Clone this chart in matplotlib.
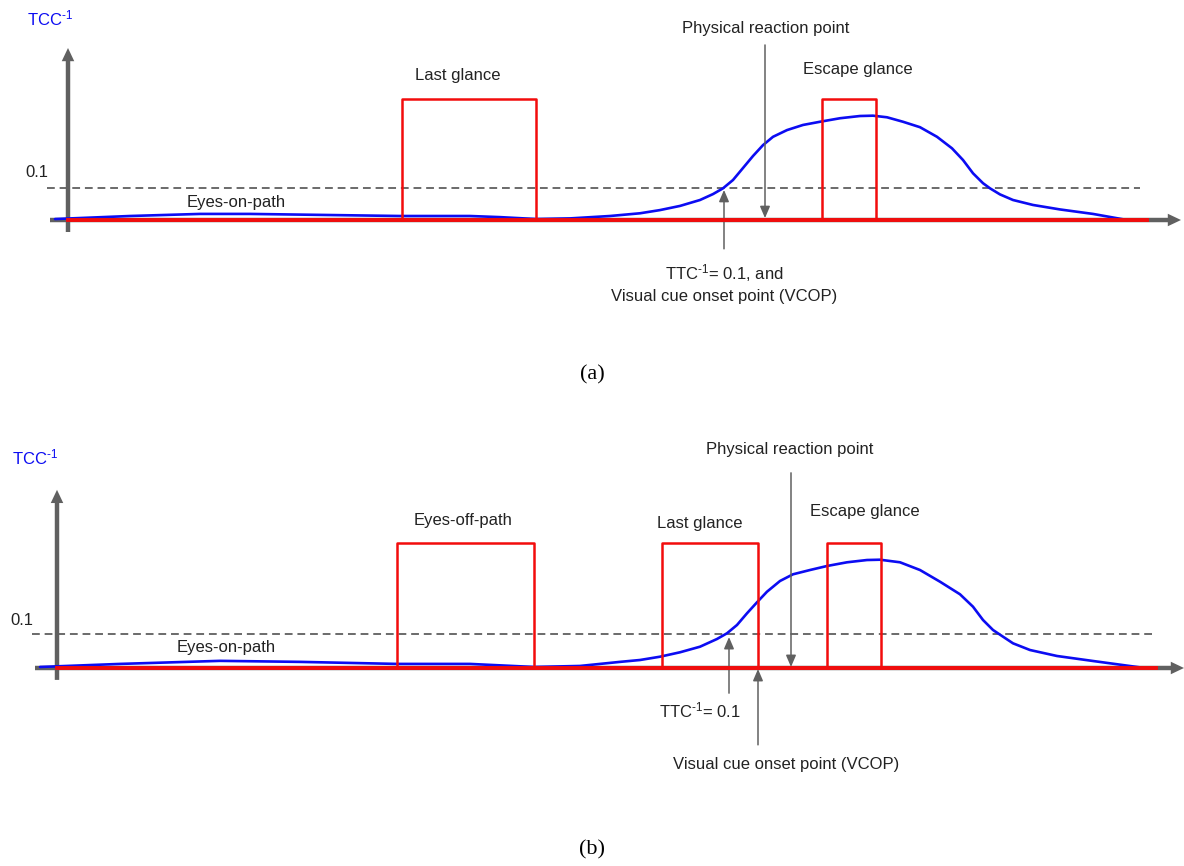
import matplotlib.pyplot as plt

plt.rcParams["font.family"] = "Liberation Sans"
plt.rcParams["mathtext.fontset"] = "custom"
plt.rcParams["mathtext.rm"] = "Liberation Sans"
plt.rcParams["mathtext.it"] = "Liberation Sans:italic"

AXIS_GREY = "#606060"
TEXT = "#222222"
BLUE = "#0c0cf2"
RED = "#f20c0c"

THRESHOLD = 0.1

# (a) eyes on path, last glance, then an escape glance
a_time = [-0.13, 0.62, 1.32, 1.82, 2.52, 3.32, 4.02, 4.32, 4.68, 5.02, 5.42,
          5.72, 5.92, 6.12, 6.32, 6.45, 6.55, 6.65, 6.75, 6.85, 6.95, 7.05,
          7.19, 7.35, 7.52, 7.72, 7.92, 8.05, 8.19, 8.35, 8.52, 8.69, 8.84,
          8.95, 9.05, 9.15, 9.22, 9.32, 9.45, 9.65, 9.92, 10.25, 10.59]
a_ttc_inv = [0.003, 0.0125, 0.019, 0.019, 0.016, 0.0125, 0.0125, 0.009, 0.003,
             0.005, 0.0125, 0.021, 0.031, 0.044, 0.0625, 0.081, 0.099, 0.125,
             0.1625, 0.200, 0.234, 0.260, 0.281, 0.297, 0.307, 0.318, 0.325,
             0.326, 0.321, 0.307, 0.290, 0.260, 0.224, 0.1875, 0.146, 0.115,
             0.099, 0.080, 0.0625, 0.047, 0.033, 0.019, 0.0]
a_glances = [(3.34, 4.68), (7.54, 8.08)]
a_glance_level = 0.378
a_reaction_t = 6.97
a_vcop_t = 6.56
a_end = 10.79

# (b) eyes off path, last glance overlapping the rise, escape glance
b_time = [-0.17, 0.63, 1.63, 2.43, 3.40, 4.13, 4.77, 5.23, 5.63, 5.83, 6.03,
          6.23, 6.43, 6.60, 6.70, 6.80, 6.90, 7.00, 7.10, 7.23, 7.36, 7.53,
          7.70, 7.90, 8.10, 8.23, 8.43, 8.63, 8.83, 9.03, 9.16, 9.26, 9.36,
          9.46, 9.56, 9.73, 10.00, 10.36, 10.85]
b_ttc_inv = [0.003, 0.012, 0.021, 0.018, 0.012, 0.012, 0.003, 0.006, 0.018,
             0.0235, 0.0332, 0.0462, 0.0626, 0.0853, 0.1021, 0.1265, 0.1609,
             0.1932, 0.2244, 0.2559, 0.2756, 0.2882, 0.300, 0.3109, 0.3176,
             0.3185, 0.3109, 0.2882, 0.2538, 0.2168, 0.1803, 0.1412, 0.1118,
             0.0921, 0.0726, 0.0529, 0.0353, 0.0206, 0.001]
b_glances = [(3.40, 4.77), (6.045, 7.01), (7.70, 8.24)]
b_glance_level = 0.368
b_reaction_t = 7.34
b_ttc_t = 6.72
b_vcop_t = 7.01
b_end = 10.99


def arrow(ax, tail, tip, lw=1.1, scale=10,
          head="-|>,head_length=0.7,head_width=0.3"):
    ax.annotate("", xy=tip, xytext=tail, annotation_clip=False,
                arrowprops=dict(arrowstyle=head, lw=lw, color=AXIS_GREY,
                                shrinkA=0, shrinkB=0, mutation_scale=scale))


def draw_panel(ax, t, v, glances, level, end, x_axis, y_axis, dash):
    # thick grey axes, filled arrow heads
    axis_head = "simple,head_length=0.95,head_width=0.9,tail_width=0.32"
    arrow(ax, (x_axis[0], 0), (x_axis[1], 0), 0, 10, axis_head)
    arrow(ax, (0, y_axis[0]), (0, y_axis[1]), 0, 10, axis_head)

    ax.plot(dash, [THRESHOLD, THRESHOLD], color="#6a6a6a", lw=1.4,
            dashes=(4, 2.5), zorder=2)
    ax.plot(t, v, color=BLUE, lw=1.9, zorder=3, solid_capstyle="round",
            solid_joinstyle="round")

    # glance trace: off-road boxes on a zero baseline
    ax.plot([0, end], [0, 0], color=RED, lw=2.8, zorder=4)
    for start, stop in glances:
        ax.plot([start, start, stop, stop], [0, level, level, 0],
                color=RED, lw=1.8, zorder=4)


fig = plt.figure(figsize=(11.84, 8.66), dpi=100)
ax_a = fig.add_axes([0, 0.5, 1, 0.5])
ax_b = fig.add_axes([0, 0, 1, 0.5])
ax_a.set_xlim(-0.68, 11.16)
ax_a.set_ylim(-0.6656, 0.6875)
ax_b.set_xlim(-0.57, 11.27)
ax_b.set_ylim(-0.5824, 0.6912)
for ax in (ax_a, ax_b):
    ax.axis("off")

label = dict(fontsize=12, color=TEXT, ha="center", va="center")
y_name = r"TCC$^{\text{-}1}$"
ttc_text = r"TTC$^{\text{-}1}$= 0.1"

# ---- panel (a)
draw_panel(ax_a, a_time, a_ttc_inv, a_glances, a_glance_level, a_end,
           (-0.18, 11.13), (-0.0375, 0.5375), (-0.21, 10.72))
ax_a.text(-0.41, 0.631, y_name, fontsize=12, color=BLUE, ha="left",
          va="center")
ax_a.text(-0.2, 0.147, "0.1", fontsize=12, color=TEXT, ha="right", va="center")
ax_a.text(1.68, 0.056, "Eyes-on-path", **label)
ax_a.text(3.9, 0.453, "Last glance", **label)
ax_a.text(7.9, 0.469, "Escape glance", **label)
ax_a.text(6.98, 0.60, "Physical reaction point", **label)
arrow(ax_a, (a_reaction_t, 0.547), (a_reaction_t, 0.006))
arrow(ax_a, (a_vcop_t, -0.09), (a_vcop_t, 0.094))
ax_a.text(a_vcop_t, -0.166, ttc_text + ", and", **label)
ax_a.text(a_vcop_t, -0.24, "Visual cue onset point (VCOP)", **label)
ax_a.text(5.24, -0.484, "(a)", fontsize=16, family="Liberation Serif",
          color="black", ha="center", va="center")

# ---- panel (b)
draw_panel(ax_b, b_time, b_ttc_inv, b_glances, b_glance_level, b_end,
           (-0.22, 11.27), (-0.035, 0.524), (-0.25, 10.98))
ax_b.text(-0.45, 0.618, y_name, fontsize=12, color=BLUE, ha="left",
          va="center")
ax_b.text(-0.24, 0.141, "0.1", fontsize=12, color=TEXT, ha="right", va="center")
ax_b.text(1.69, 0.059, "Eyes-on-path", **label)
ax_b.text(4.06, 0.435, "Eyes-off-path", **label)
ax_b.text(6.43, 0.424, "Last glance", **label)
ax_b.text(8.08, 0.459, "Escape glance", **label)
ax_b.text(7.33, 0.644, "Physical reaction point", **label)
arrow(ax_b, (b_reaction_t, 0.574), (b_reaction_t, 0.003))
arrow(ax_b, (b_ttc_t, -0.074), (b_ttc_t, 0.091))
ax_b.text(6.43, -0.124, ttc_text, **label)
arrow(ax_b, (b_vcop_t, -0.226), (b_vcop_t, -0.003))
ax_b.text(7.29, -0.285, "Visual cue onset point (VCOP)", **label)
ax_b.text(5.35, -0.535, "(b)", fontsize=16, family="Liberation Serif",
          color="black", ha="center", va="center")

fig.savefig("out.png", dpi=100, facecolor="white")
